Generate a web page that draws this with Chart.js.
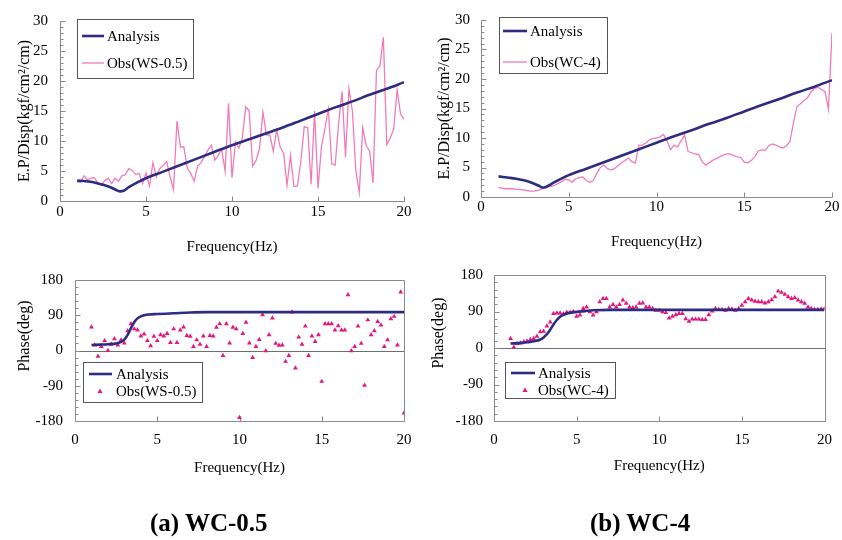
<!DOCTYPE html>
<html><head><meta charset="utf-8">
<script src="https://cdn.jsdelivr.net/npm/chart.js@4.4.1/dist/chart.umd.min.js"></script>
<style>
html,body{margin:0;padding:0;background:#fff;}
#wrap{position:relative;width:842px;height:540px;overflow:hidden;background:#fff;}
#wrap canvas{position:absolute;left:0;top:0;}
.cap{position:absolute;font-family:'Liberation Serif',serif;font-weight:bold;font-size:25px;line-height:29px;color:#000;white-space:nowrap;}
</style></head><body>
<div id="wrap">
<canvas id="c1" width="842" height="540"></canvas>
<canvas id="c2" width="842" height="540"></canvas>
<canvas id="c3" width="842" height="540"></canvas>
<canvas id="c4" width="842" height="540"></canvas>
<div class="cap" style="left:150px;top:508px;">(a) WC-0.5</div>
<div class="cap" style="left:590px;top:508px;">(b) WC-4</div>
</div>
<script>
// ---------- data ----------
const freq = [
  1.0,1.2,1.4,1.6,1.8, 2.0,2.2,2.4,2.6,2.8, 3.0,3.2,3.4,3.6,3.8, 4.0,4.2,4.4,4.6,4.8,
  5.0,5.2,5.4,5.6,5.8, 6.0,6.2,6.4,6.6,6.8, 7.0,7.2,7.4,7.6,7.8, 8.0,8.2,8.4,8.6,8.8,
  9.0,9.2,9.4,9.6,9.8, 10.0,10.2,10.4,10.6,10.8, 11.0,11.2,11.4,11.6,11.8, 12.0,12.2,12.4,12.6,12.8,
  13.0,13.2,13.4,13.6,13.8, 14.0,14.2,14.4,14.6,14.8, 15.0,15.2,15.4,15.6,15.8, 16.0,16.2,16.4,16.6,16.8,
  17.0,17.2,17.4,17.6,17.8, 18.0,18.2,18.4,18.6,18.8, 19.0,19.2,19.4,19.6,19.8, 20.0
];
// E.P/Disp observed, WS-0.5
const obsWS = [
  3.2,3.1,4.2,3.5,3.8, 3.9,3.0,2.6,3.4,3.8, 2.9,3.8,3.3,4.2,4.4, 5.4,5.1,4.4,4.6,2.9,
  4.7,2.5,6.4,4.0,5.4, 5.9,6.6,4.0,1.9,13.3, 9.0,9.0,5.5,4.6,3.3, 5.8,6.4,7.4,8.5,9.3,
  6.8,7.6,8.6,5.0,16.3, 3.9,9.8,8.8,10.5,15.7, 15.0,5.8,6.8,8.7,14.8, 11.0,11.0,8.3,11.8,9.0,
  8.0,2.6,7.6,2.4,2.5, 6.5,12.4,12.2,2.8,15.0, 2.1,9.0,12.0,15.3,6.2, 6.0,13.0,18.3,7.3,18.7,
  15.0,5.0,1.4,12.2,9.3, 8.3,3.0,21.8,22.5,27.3, 9.4,10.5,12.0,18.5,14.5, 13.6
];
// E.P/Disp observed, WC-4
const obsWC = [
  1.6,1.5,1.4,1.4,1.4, 1.3,1.3,1.2,1.1,1.0, 1.0,1.1,1.3,1.5,1.7, 1.8,2.0,2.3,2.6,3.0,
  2.9,2.5,3.1,3.3,3.4, 2.8,2.5,2.8,4.0,5.0, 5.4,4.8,4.6,4.8,5.3, 5.8,6.2,6.6,6.0,5.8,
  8.8,8.8,9.2,9.7,9.9, 10.0,10.2,10.6,9.5,8.0, 8.8,8.5,9.5,10.5,7.7, 7.5,7.3,7.2,6.0,5.4,
  5.8,6.2,6.5,6.8,7.1, 7.3,7.3,7.0,6.8,6.7, 5.9,5.8,6.2,6.8,7.8, 8.0,7.9,8.7,9.0,8.8,
  8.5,8.3,8.7,9.4,12.5, 15.3,15.8,16.3,16.8,17.8, 18.4,18.6,18.2,17.9,14.9, 27.8
];
// Phase observed (deg)
const phObsWS = [
  60,14,-15,10,25, 0,16,30,14,27, 19,50,68,55,52, 37,42,25,12,36,
  25,40,37,43,20, 55,20,52,60,38, 36,10,27,16,37, 10,38,37,59,68,
  -13,68,19,59,55, -171,43,72,19,-18, 10,28,91,-1,40, 83,18,13,14,-28,
  -13,98,-45,34,16, 62,-13,37,23,40, -79,68,68,68,52, 63,52,52,142,-1,
  10,62,18,-89,78, 40,50,74,65,10, 27,81,87,14,149, -160
];
const phObsWC = [
  23,2,11,12,15, 17,21,23,29,40, 41,54,64,85,86, 86,84,88,88,90,
  78,81,97,101,89, 81,89,114,122,122, 101,107,101,107,118, 110,101,99,101,110,
  111,101,101,97,93, 93,89,87,74,78, 82,85,85,72,66, 71,71,71,70,70,
  82,91,97,95,95, 93,97,96,93,97, 105,114,122,118,115, 114,114,111,114,119,
  126,140,137,132,126, 122,124,118,114,110, 101,97,95,95,96, 97
];
// Analysis curves
const anaFreq = [1,1.5,2,2.5,3,3.3,3.5,3.7,4,4.5,5,6,7,8,9,10,11,12,13,14,15,16,17,18,19,20];
const anaWS = [3.4,3.3,3.1,2.7,2.2,1.8,1.6,1.7,2.3,3.1,3.8,4.9,6.0,7.1,8.2,9.3,10.3,11.3,12.3,13.4,14.5,15.6,16.6,17.7,18.7,19.8];
const anaWC = [3.5,3.3,3.1,2.8,2.3,1.9,1.6,1.7,2.2,3.0,3.7,4.8,5.9,7.0,8.1,9.2,10.3,11.3,12.4,13.4,14.5,15.6,16.6,17.7,18.7,19.8];
const phFreq = [1,1.5,2,2.5,2.8,3,3.2,3.4,3.6,3.8,4,4.2,4.5,5,5.5,6,7,8,10,12,14,16,18,20];
const phAnaWS = [14,15,16,18,22,28,40,57,72,82,87,90,92,93,94,95,97,98,98,98,98,98,98,98];
const phAnaWC = [11,12,14,17,21,26,34,45,58,69,77,82,86,89,91,93,94,94,94,94,94,94,94,94];

const xTitle = 'Frequency(Hz)';
const yTitleTop = 'E.P/Disp(kgf/cm²/cm)';
const yTitleBot = 'Phase(deg)';
const lblAna = 'Analysis';
const lblWS = 'Obs(WS-0.5)';
const lblWC = 'Obs(WC-4)';

// ---------- styles ----------
const SERIF = "'Liberation Serif', 'Times New Roman', serif";
const NAVY = '#2d2c82';
const PINK = '#f27cb9';
const MAG = '#e5177f';
const AXIS = '#8a8a8a';

const pts = (xs, ys) => xs.map((x, i) => ({x, y: ys[i]}));

const decor = {
  id: 'decor',
  beforeDatasetsDraw(chart, args, o) {
    const {ctx, chartArea: a, scales: {x, y}} = chart;
    ctx.save();
    ctx.strokeStyle = AXIS; ctx.lineWidth = 1;
    const L = Math.round(a.left) + 0.5, R = Math.round(a.right) + 0.5;
    const T = Math.round(a.top) + 0.5, B = Math.round(a.bottom) + 0.5;
    ctx.beginPath();
    if (o.box) {
      ctx.rect(L, T, R - L, B - T);
    } else {
      ctx.moveTo(L, T); ctx.lineTo(L, B); ctx.lineTo(R, B);
    }
    ctx.stroke();
    if (o.zero) {
      const zy = Math.round(y.getPixelForValue(0)) + 0.5;
      ctx.strokeStyle = '#6e6e6e';
      ctx.beginPath(); ctx.moveTo(L, zy); ctx.lineTo(R, zy); ctx.stroke();
      ctx.strokeStyle = AXIS;
    }
    ctx.beginPath();
    const n = Math.round((y.max - y.min) / o.yMinor);
    for (let i = 0; i <= n; i++) {
      const v = y.min + i * o.yMinor;
      const py = Math.round(y.getPixelForValue(v)) + 0.5;
      const major = Math.abs(Math.round(v / o.yMajor) * o.yMajor - v) < 1e-6;
      ctx.moveTo(L, py); ctx.lineTo(L + (major ? 5 : 3), py);
    }
    const m = Math.round((x.max - x.min) / o.xMajor);
    for (let i = 1; i <= m; i++) {
      const px = Math.round(x.getPixelForValue(x.min + i * o.xMajor)) + 0.5;
      ctx.moveTo(px, B); ctx.lineTo(px, B - 5);
    }
    ctx.stroke();
    ctx.restore();
  },
  afterDraw(chart, args, o) {
    const {ctx} = chart;
    if (o.yTitle) {
      ctx.save();
      ctx.font = o.yTitle.size + 'px ' + SERIF;
      ctx.fillStyle = '#000'; ctx.textAlign = 'center'; ctx.textBaseline = 'middle';
      ctx.translate(o.yTitle.x, o.yTitle.y); ctx.rotate(-Math.PI / 2);
      ctx.fillText(o.yTitle.text, 0, 0);
      ctx.restore();
    }
    const lg = o.legend; if (!lg) return;
    ctx.save();
    ctx.fillStyle = '#fff';
    ctx.fillRect(lg.x, lg.y, lg.w, lg.h);
    ctx.strokeStyle = '#555'; ctx.lineWidth = 1;
    ctx.strokeRect(lg.x + 0.5, lg.y + 0.5, lg.w, lg.h);
    ctx.font = lg.font + 'px ' + SERIF;
    ctx.textBaseline = 'middle'; ctx.textAlign = 'left';
    lg.items.forEach(it => {
      if (it.type === 'line') {
        ctx.strokeStyle = it.color; ctx.lineWidth = it.width;
        ctx.beginPath(); ctx.moveTo(it.x0, it.y); ctx.lineTo(it.x1, it.y); ctx.stroke();
      } else {
        ctx.fillStyle = it.color;
        const cx = it.cx, cy = it.y, r = 2.6;
        ctx.beginPath(); ctx.moveTo(cx, cy - r); ctx.lineTo(cx + r, cy + r * 0.8); ctx.lineTo(cx - r, cy + r * 0.8); ctx.closePath(); ctx.fill();
      }
      ctx.fillStyle = '#000';
      ctx.fillText(it.text, it.tx, it.y + 1);
    });
    ctx.restore();
  }
};

function makeChart(id, c) {
  return new Chart(document.getElementById(id), {
    type: 'line',
    data: {datasets: c.datasets},
    options: {
      responsive: false, animation: false, events: [],
      layout: {padding: c.pad},
      plugins: {legend: {display: false}, tooltip: {enabled: false}, decor: c.decor},
      scales: {
        x: {
          type: 'linear', min: 0, max: 20,
          afterFit: s => { s.height = c.xH; },
          ticks: {stepSize: 5, font: {family: SERIF, size: 15}, color: '#000', padding: c.xPad, maxRotation: 0, autoSkip: false},
          grid: {display: false, drawTicks: false}, border: {display: false},
          title: {display: true, text: xTitle, font: {family: SERIF, size: 15}, color: '#000', padding: 0}
        },
        y: {
          type: 'linear', min: c.yMin, max: c.yMax,
          afterFit: s => { s.width = c.yW; },
          ticks: {stepSize: c.yStep, font: {family: SERIF, size: 15}, color: '#000', padding: c.yPad, autoSkip: false},
          grid: {display: false, drawTicks: false}, border: {display: false},
          title: {display: !!c.yTitle, text: c.yTitle || '', font: {family: SERIF, size: 16}, color: '#000', padding: 0}
        }
      }
    },
    plugins: [decor]
  });
}

const anaLine = (xs, ys) => ({label: lblAna, data: pts(xs, ys), borderColor: NAVY, borderWidth: 2.6, pointRadius: 0, cubicInterpolationMode: 'monotone', fill: false, order: 0});
const obsLine = (lbl, ys) => ({label: lbl, data: pts(freq, ys), borderColor: PINK, borderWidth: 1.3, pointRadius: 0, tension: 0, fill: false, order: 1});
const obsPts = (lbl, ys) => ({label: lbl, data: pts(freq, ys), showLine: false, pointStyle: 'triangle', pointRadius: 2.8, pointBackgroundColor: MAG, pointBorderColor: MAG, pointBorderWidth: 0, order: 1});

// (a) top: E.P/Disp WS-0.5
makeChart('c1', {
  datasets: [anaLine(anaFreq, anaWS), obsLine(lblWS, obsWS)],
  pad: {left: 15, top: 20, right: 438, bottom: 284}, yW: 45, xH: 55, xPad: 2, yPad: 12,
  yMin: 0, yMax: 30, yStep: 5, yTitle: yTitleTop,
  decor: {box: false, zero: false, yMinor: 1, yMajor: 5, xMajor: 5,
    legend: {x: 77, y: 19, w: 116, h: 59, font: 15, items: [
      {type: 'line', color: NAVY, width: 2.6, x0: 82, x1: 104, y: 36, tx: 107, text: lblAna},
      {type: 'line', color: PINK, width: 1.3, x0: 82, x1: 104, y: 63, tx: 107, text: lblWS}]}}
});
// (b) top: E.P/Disp WC-4
makeChart('c2', {
  datasets: [anaLine(anaFreq, anaWC), obsLine(lblWC, obsWC)],
  pad: {left: 435, top: 15, right: 10, bottom: 289}, yW: 46, xH: 54, xPad: 1, yPad: 11,
  yMin: 0, yMax: 30, yStep: 5, yTitle: yTitleTop,
  decor: {box: false, zero: false, yMinor: 1, yMajor: 5, xMajor: 5,
    legend: {x: 499, y: 17, w: 108, h: 56, font: 15, items: [
      {type: 'line', color: NAVY, width: 2.6, x0: 503, x1: 527, y: 31, tx: 530, text: lblAna},
      {type: 'line', color: PINK, width: 1.3, x0: 503, x1: 527, y: 62, tx: 530, text: lblWC}]}}
});
// (a) bottom: Phase WS-0.5
makeChart('c3', {
  datasets: [anaLine(phFreq, phAnaWS), obsPts(lblWS, phObsWS)],
  pad: {left: 15, top: 280, right: 438, bottom: 63}, yW: 60, xH: 56, xPad: 10, yPad: 12,
  yMin: -180, yMax: 180, yStep: 90, yTitle: null,
  decor: {box: true, zero: true, yMinor: 18, yMajor: 90, xMajor: 5,
    yTitle: {text: yTitleBot, x: 25, y: 336, size: 16},
    legend: {x: 83, y: 362, w: 119, h: 40, font: 15, items: [
      {type: 'line', color: NAVY, width: 2.6, x0: 89, x1: 112, y: 374, tx: 116, text: lblAna},
      {type: 'tri', color: MAG, cx: 100, y: 391, tx: 116, text: lblWS}]}}
});
// (b) bottom: Phase WC-4
makeChart('c4', {
  datasets: [anaLine(phFreq, phAnaWC), obsPts(lblWC, phObsWC)],
  pad: {left: 428, top: 275, right: 9, bottom: 65}, yW: 66, xH: 54, xPad: 10, yPad: 11,
  yMin: -180, yMax: 180, yStep: 90, yTitle: null,
  decor: {box: true, zero: true, yMinor: 18, yMajor: 90, xMajor: 5,
    yTitle: {text: yTitleBot, x: 439, y: 333, size: 16},
    legend: {x: 505, y: 362, w: 110, h: 36, font: 15, items: [
      {type: 'line', color: NAVY, width: 2.6, x0: 511, x1: 535, y: 373, tx: 538, text: lblAna},
      {type: 'tri', color: MAG, cx: 525, y: 390, tx: 538, text: lblWC}]}}
});
</script>
</body></html>
